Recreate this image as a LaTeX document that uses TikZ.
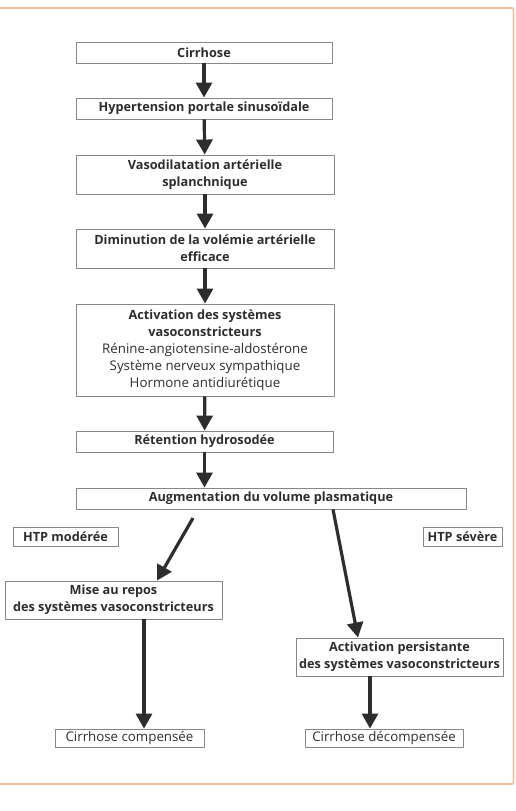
\documentclass[tikz,border=0pt]{standalone}
\usepackage{fontspec}
\setmainfont{Open Sans}
\usetikzlibrary{arrows.meta}
\definecolor{framecol}{RGB}{240,192,158}
\definecolor{boxcol}{RGB}{135,135,135}
\definecolor{inkcol}{RGB}{45,45,45}
\newcommand{\regtext}{\fontsize{13.3}{17}\selectfont\mdseries}
\tikzset{
  box/.style={draw=boxcol,line width=0.9pt,rectangle,inner sep=0pt,align=center,
    text=inkcol,font=\fontsize{12.7}{17}\selectfont\bfseries},
  plain/.style={box,font=\regtext},
  arr/.style={draw=inkcol,line width=3.2pt,-{Triangle[length=15pt,width=16pt]},shorten >=0pt}
}
\begin{document}
\begin{tikzpicture}[x=1pt,y=-1pt,line join=round]
  \useasboundingbox (0,0) rectangle (516,811);
  % frame
  \draw[framecol,line width=1.6pt,rounded corners=1pt] (-3,8) -- (513.5,8) -- (513.5,784) -- (-3,784);
  % main chain
  \node[box,minimum width=256pt,minimum height=21pt] (cirr) at (204,52.5) {Cirrhose};
  \node[box,minimum width=256pt,minimum height=21pt] (htp) at (204,108.5) {Hypertension portale sinusoïdale};
  \node[box,minimum width=258pt,minimum height=39pt] (vaso) at (205,174.5) {Vasodilatation artérielle\\splanchnique};
  \node[box,minimum width=258pt,minimum height=39pt] (dimin) at (205,248.5) {Diminution de la volémie artérielle\\efficace};
  \node[box,minimum width=258pt,minimum height=92pt] (activ) at (205,350)
    {Activation des systèmes\\vasoconstricteurs\\
     \regtext Rénine-angiotensine-aldostérone\\
     \regtext Système nerveux sympathique\\
     \regtext Hormone antidiurétique};
  \node[box,minimum width=257pt,minimum height=21pt] (reten) at (204.5,441.5) {Rétention hydrosodée};
  \node[box,minimum width=390pt,minimum height=21pt] (augm) at (271,498.5) {Augmentation du volume plasmatique};
  % two branches
  \node[box,minimum width=105pt,minimum height=19pt] (modere) at (65.5,536.5) {HTP modérée};
  \node[box,minimum width=79pt,minimum height=19pt] (severe) at (462.5,536.5) {HTP sévère};
  \node[box,minimum width=217pt,minimum height=38pt] (repos) at (113.5,600) {Mise au repos\\des systèmes vasoconstricteurs};
  \node[box,minimum width=207pt,minimum height=38pt] (persist) at (399.5,657) {Activation persistante\\des systèmes vasoconstricteurs};
  \node[plain,minimum width=149pt,minimum height=18pt] (comp) at (129.5,738) {Cirrhose compensée};
  \node[plain,minimum width=158pt,minimum height=18pt] (decomp) at (384,738) {Cirrhose décompensée};
  \coordinate (modstart) at (193,518);
  % arrows
  \draw[arr] (cirr) -- (htp);
  \draw[arr] (htp) -- (vaso);
  \draw[arr] (vaso) -- (dimin);
  \draw[arr] (dimin) -- (activ);
  \draw[arr] (activ) -- (reten);
  \draw[arr] (reten) -- (reten |- augm.north);
  \draw[arr] (modstart) -- ([xshift=43.5pt]repos.north);
  \draw[arr] ([xshift=62pt]augm.south) -- ([xshift=-41.5pt]persist.north);
  \draw[arr] ([xshift=30.5pt]repos.south) -- ([xshift=14.5pt]comp.north);
  \draw[arr] ([xshift=-29.5pt]persist.south) -- ([xshift=-14pt]decomp.north);
\end{tikzpicture}
\end{document}
